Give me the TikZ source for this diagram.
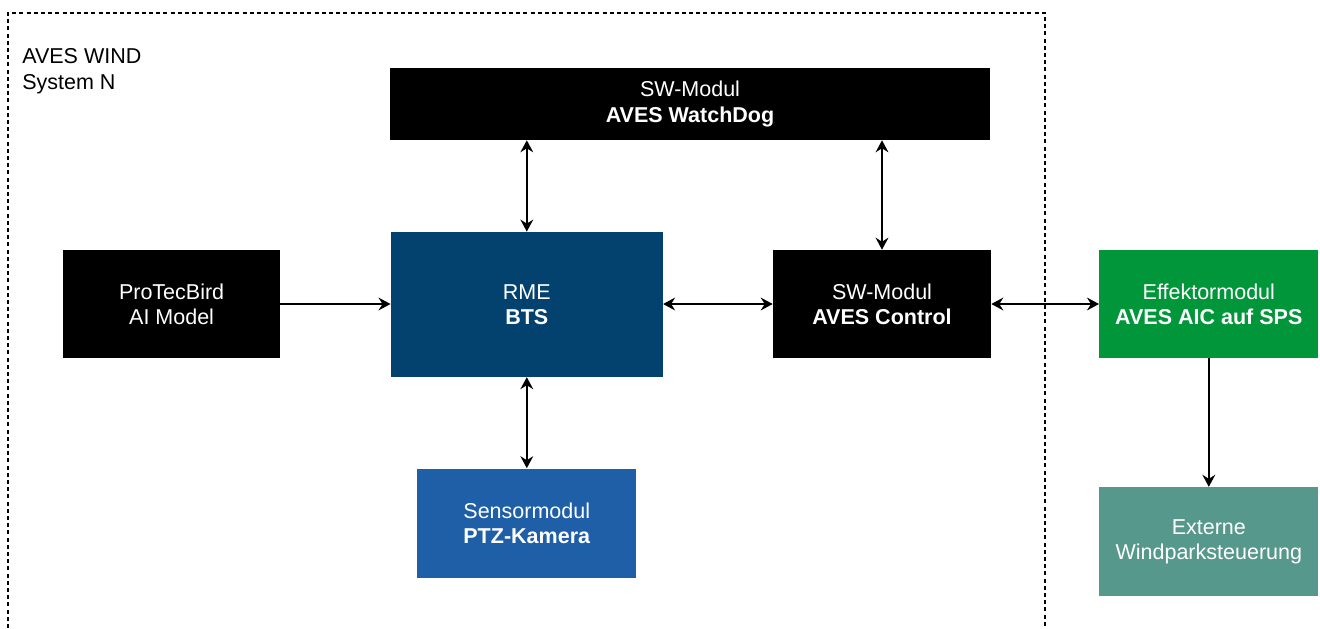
\documentclass[tikz,border=0pt]{standalone}
\usepackage{fontspec}
\setmainfont{Liberation Sans}
\usetikzlibrary{arrows.meta}

\definecolor{rmeblue}{RGB}{3,66,110}
\definecolor{sensorblue}{RGB}{31,95,168}
\definecolor{effgreen}{RGB}{0,150,57}
\definecolor{extteal}{RGB}{86,152,140}

\begin{document}
\begin{tikzpicture}[
    modul/.style={minimum width=54.5mm, minimum height=27mm, inner sep=0pt,
      align=center, text=white, font=\fontsize{15.3}{18}\selectfont},
    tip/.tip={Stealth[length=3mm, width=3.2mm, inset=1mm]},
    link/.style={line width=0.45mm, tip-tip},
    feed/.style={line width=0.45mm, -tip}
  ]
  \useasboundingbox (0mm, 0mm) rectangle (330mm, -157mm);

  % system frame
  \draw[line width=0.3mm, dash pattern=on 1mm off 0.8mm]
    (2mm, -157mm) -- (2mm, -3.25mm) -- (261.25mm, -3.25mm) -- (261.25mm, -157mm);
  \node[anchor=north west, inner sep=0pt, align=left,
        font=\fontsize{15.3}{18.5}\selectfont] (title) at (5.5mm, -12mm)
    {AVES WIND\\System N};

  % boxes
  \node[modul, fill=black, minimum width=150mm, minimum height=18mm] (watchdog)
    at (172.5mm, -26mm) {SW-Modul\\\textbf{AVES WatchDog}};
  \node[modul, fill=black, minimum width=54.25mm] (protecbird)
    at (42.9mm, -76mm) {ProTecBird\\AI Model};
  \node[modul, fill=rmeblue, minimum width=68mm, minimum height=36.25mm] (rme)
    at (131.7mm, -76.1mm) {RME\\\textbf{BTS}};
  \node[modul, fill=black] (control)
    at (220.5mm, -76mm) {SW-Modul\\\textbf{AVES Control}};
  \node[modul, fill=effgreen, minimum width=54.75mm] (effektor)
    at (302.2mm, -76mm) {Effektormodul\\\textbf{AVES AIC auf SPS}};
  \node[modul, fill=sensorblue, minimum width=54.75mm, minimum height=27.25mm] (sensor)
    at (131.7mm, -130.75mm) {Sensormodul\\\textbf{PTZ-Kamera}};
  \node[modul, fill=extteal, minimum width=54.75mm, minimum height=27.25mm] (extern)
    at (302.2mm, -135.4mm) {Externe\\Windparksteuerung};

  % connections
  \draw[link] (watchdog.south -| rme.north) -- (rme.north);
  \draw[link] (watchdog.south -| control.north) -- (control.north);
  \draw[feed] (protecbird.east) -- (protecbird.east -| rme.west);
  \draw[link] (rme.east |- control.west) -- (control.west);
  \draw[link] (control.east) -- (effektor.west);
  \draw[link] (rme.south) -- (sensor.north);
  \draw[feed] (effektor.south) -- (extern.north);
\end{tikzpicture}
\end{document}
